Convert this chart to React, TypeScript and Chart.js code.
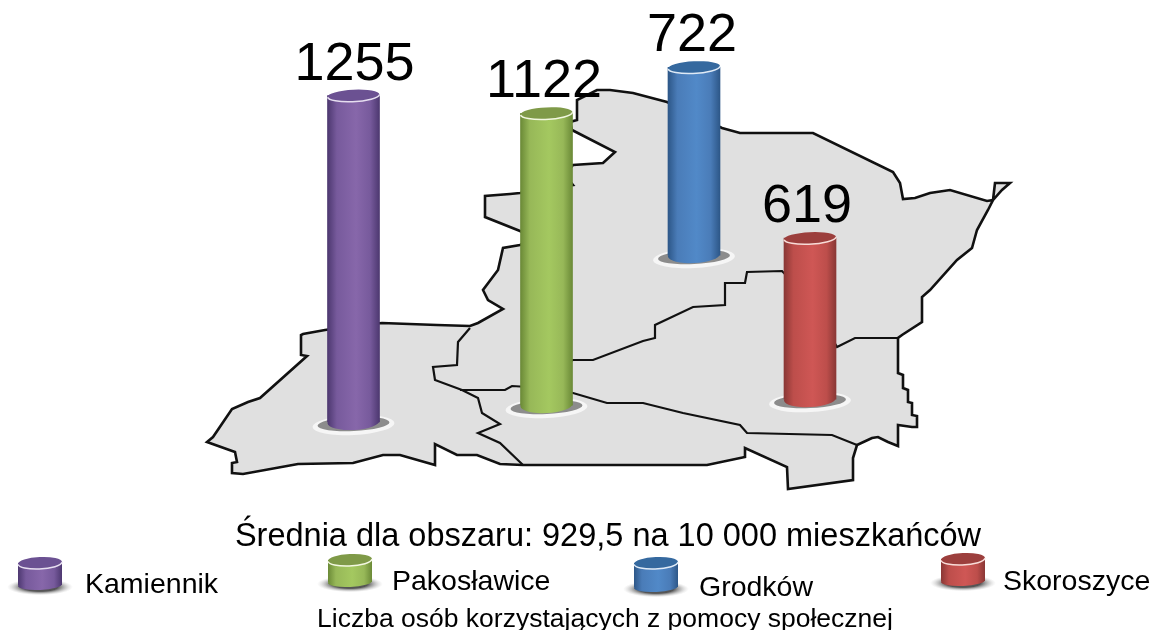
import React, { useEffect, useRef } from "react";
import { Chart, registerables } from "chart.js";

Chart.register(...registerables);

const categories = ["Kamiennik", "Pakosławice", "Grodków", "Skoroszyce"];
const values = [1255, 1122, 722, 619];
const valueLabels = ["1255", "1122", "722", "619"];
// where each column stands on the map: horizontal map position, and value-axis base
const barX = [353.5, 546.5, 694, 810];
const barBase = [800, 865, 1442, 888];

const titleText = "Średnia dla obszaru: 929,5 na 10 000 mieszkańców";
const captionText = "Liczba osób korzystających z pomocy społecznej";

const mapOutline = [
  [520,193],[510,194],[485,196],[485,217],[520,231],[535,238],[520,245],[503,248],[498,270],[483,290],
  [488,300],[503,309],[478,323],[470,326],[437,325],[382,323],[353,326],[325,330],[303,334],[301,335],
  [301,355],[307,356],[260,398],[248,402],[232,409],[213,437],[207,442],[235,452],[237,462],[232,463],
  [232,473],[243,474],[298,464],[353,463],[383,455],[400,455],[435,465],[435,444],[457,455],[477,455],
  [500,464],[523,465],[707,465],[745,457],[745,448],[787,467],[788,489],[853,480],[853,458],[857,445],
  [872,438],[878,437],[888,442],[898,446],[898,425],[912,427],[917,427],[917,416],[912,415],[912,403],
  [908,402],[908,390],[903,388],[903,375],[898,373],[898,338],[902,335],[922,322],[922,297],[930,290],
  [957,260],[972,248],[977,230],[988,210],[993,200],[995,183],[1010,183],[1002,190],[993,200],[987,201],
  [950,190],[930,193],[915,198],[903,199],[900,183],[893,172],[813,133],[790,133],[740,133],[722,128],
  [667,102],[633,93],[610,90],[597,90],[577,100],[577,120],[570,122],[572,130],[615,152],[603,163],
  [573,165],[565,175],[573,185],[520,193],
];
const borderKamiennik = [
  [470,328],[458,342],[457,365],[433,367],[435,380],[462,390],[478,398],[482,413],[500,424],[478,433],[500,443],[523,465],
];
const borderSouth = [
  [460,390],[505,390],[512,386],[545,388],[573,393],[607,403],[643,403],[683,413],[740,425],[747,433],[832,435],[857,445],
];
const borderNorth = [
  [545,372],[573,360],[593,360],[643,341],[655,338],[655,325],[693,307],[725,305],[725,283],[745,283],[747,272],[782,271],
  [810,300],[837,347],[855,338],[898,338],
];

const W = 1159;
const H = 630;
const PX_PER_UNIT = 0.26;
const FONT = '"Liberation Sans", Arial, sans-serif';
const BAR_W = 52;

type Palette = { edge: string; mid: string; light: string; cap: string; rim: string };
const palettes: Palette[] = [
  { edge: "#4d3870", mid: "#775a9c", light: "#8767aa", cap: "#6b5192", rim: "#e6def0" },
  { edge: "#6b8a37", mid: "#97b858", light: "#a4c860", cap: "#7f9a48", rim: "#f2f7e0" },
  { edge: "#2d5788", mid: "#4a7cb8", light: "#5189c8", cap: "#35699f", rim: "#dfeaf6" },
  { edge: "#8a3735", mid: "#bd4e4b", light: "#cf5755", cap: "#9c3f3d", rim: "#f8dcd8" },
];
// legend keys: left, right, top of cap, bottom of body
const legendKeys = [
  [18, 62, 557, 590],
  [328, 372, 554, 587],
  [634, 678, 557, 592],
  [941, 985, 553, 586],
];
const legendTextX = [85, 392, 699, 1003];
const legendTextY = [593, 590, 596, 590];
const labelShift = [1, -2.5, -2, -3];

function bodyGradient(c: CanvasRenderingContext2D, l: number, r: number, p: Palette) {
  const g = c.createLinearGradient(l, 0, r, 0);
  g.addColorStop(0, p.edge);
  g.addColorStop(0.18, p.mid);
  g.addColorStop(0.55, p.light);
  g.addColorStop(0.82, p.mid);
  g.addColorStop(1, p.edge);
  return g;
}

function ellipse(c: CanvasRenderingContext2D, x: number, y: number, rx: number, ry: number, fill: any) {
  c.beginPath();
  c.ellipse(x, y, rx, ry, -0.05, 0, Math.PI * 2);
  c.fillStyle = fill;
  c.fill();
}

function drawCap(c: CanvasRenderingContext2D, x: number, y: number, rx: number, ry: number, p: Palette) {
  ellipse(c, x, y, rx, ry, p.cap);
  c.beginPath();
  c.ellipse(x, y, rx, ry, -0.05, 0.05, Math.PI - 0.05);
  c.strokeStyle = p.rim;
  c.lineWidth = 1.5;
  c.stroke();
}

const cylinderPlugin = {
  id: "cylinders",
  beforeDatasetDraw(chart: any, args: any) {
    if (args.meta.type !== "bar") return;
    const c = chart.ctx;
    c.save();
    args.meta.data.forEach((b: any, i: number) => {
      const rx = b.width / 2;
      ellipse(c, b.x, b.base + 3, rx + 15, 10, "#f6f6f6");
      ellipse(c, b.x, b.base + 2, rx + 10, 7, "#8c8c8c");
      ellipse(c, b.x, b.base, rx, 8, bodyGradient(c, b.x - rx, b.x + rx, palettes[i]));
    });
    c.restore();
  },
  afterDatasetDraw(chart: any, args: any) {
    if (args.meta.type !== "bar") return;
    const c = chart.ctx;
    c.save();
    args.meta.data.forEach((b: any, i: number) => {
      drawCap(c, b.x, b.y, b.width / 2, 6, palettes[i]);
      c.fillStyle = "#000";
      c.font = `54px ${FONT}`;
      c.textAlign = "center";
      c.textBaseline = "alphabetic";
      c.fillText(valueLabels[i], b.x + labelShift[i], b.y - 16);
    });
    c.restore();
  },
  afterDraw(chart: any) {
    const c = chart.ctx;
    c.save();
    c.fillStyle = "#000";
    c.textBaseline = "alphabetic";
    c.textAlign = "center";
    c.font = `32.5px ${FONT}`;
    c.fillText(titleText, 608, 546);
    c.font = `26.5px ${FONT}`;
    c.fillText(captionText, 605, 627);
    categories.forEach((name, i) => {
      const [l, r, t, b] = legendKeys[i];
      const p = palettes[i];
      const cx = (l + r) / 2;
      const rx = (r - l) / 2;
      const g = c.createRadialGradient(cx, b - 3, rx * 0.8, cx, b - 3, rx + 11);
      g.addColorStop(0, "rgba(85,85,85,1)");
      g.addColorStop(1, "rgba(200,200,200,0)");
      c.save();
      c.translate(0, (b - 3) * 0.75);
      c.scale(1, 0.25);
      ellipse(c, cx, b - 3, rx + 11, rx + 11, g);
      c.restore();
      const capY = t + 6;
      ellipse(c, cx, b - 5, rx, 5, bodyGradient(c, l, r, p));
      c.fillStyle = bodyGradient(c, l, r, p);
      c.fillRect(l, capY, r - l, b - 5 - capY);
      drawCap(c, cx, capY, rx, 6, p);
      c.fillStyle = "#000";
      c.textAlign = "left";
      c.font = `28.5px ${FONT}`;
      c.fillText(name, legendTextX[i], legendTextY[i]);
    });
    c.restore();
  },
};

const toPoints = (list: number[][]) => list.map(([x, y]) => ({ x, y }));

const borderLine = (list: number[][]) => ({
  type: "scatter" as const,
  data: toPoints(list),
  showLine: true,
  borderColor: "#111111",
  borderWidth: 2.2,
  pointRadius: 0,
  tension: 0,
  fill: false,
  yAxisID: "yMap",
  order: 2,
  clip: false,
});

export default function App() {
  const ref = useRef<HTMLCanvasElement>(null);
  useEffect(() => {
    if (!ref.current) return;
    const chart = new Chart(ref.current, {
      data: {
        datasets: [
          {
            type: "bar",
            label: "Liczba osób",
            data: values.map((v, i) => ({ x: barX[i], y: [barBase[i], barBase[i] + v] })) as any,
            barThickness: BAR_W,
            borderWidth: 0,
            yAxisID: "yValue",
            order: 1,
            backgroundColor: (ctx: any) => {
              const i = ctx.dataIndex ?? 0;
              const cx = ctx.chart.scales.x?.getPixelForValue(barX[i]);
              if (!Number.isFinite(cx)) return palettes[i].mid;
              return bodyGradient(ctx.chart.ctx, cx - BAR_W / 2, cx + BAR_W / 2, palettes[i]);
            },
          },
          {
            type: "scatter",
            data: toPoints(mapOutline),
            showLine: true,
            borderColor: "#111111",
            borderWidth: 2.6,
            backgroundColor: "#e0e0e0",
            pointRadius: 0,
            tension: 0,
            fill: "shape",
            yAxisID: "yMap",
            order: 3,
            clip: false,
          } as any,
          borderLine(borderKamiennik),
          borderLine(borderSouth),
          borderLine(borderNorth),
        ],
      } as any,
      options: {
        animation: false,
        responsive: false,
        layout: { padding: 0 },
        plugins: { legend: { display: false }, tooltip: { enabled: false }, title: { display: false } },
        scales: {
          x: { type: "linear", min: 0, max: W, display: false, offset: false },
          yMap: { type: "linear", reverse: true, min: 0, max: H, display: false },
          yValue: { type: "linear", min: 0, max: H / PX_PER_UNIT, display: false },
        },
      } as any,
      plugins: [cylinderPlugin],
    });
    return () => chart.destroy();
  }, []);
  return (
    <div style={{ position: "absolute", left: 0, top: 0, width: W, height: H, background: "#fff" }}>
      <canvas ref={ref} width={W} height={H} style={{ display: "block" }} />
    </div>
  );
}
